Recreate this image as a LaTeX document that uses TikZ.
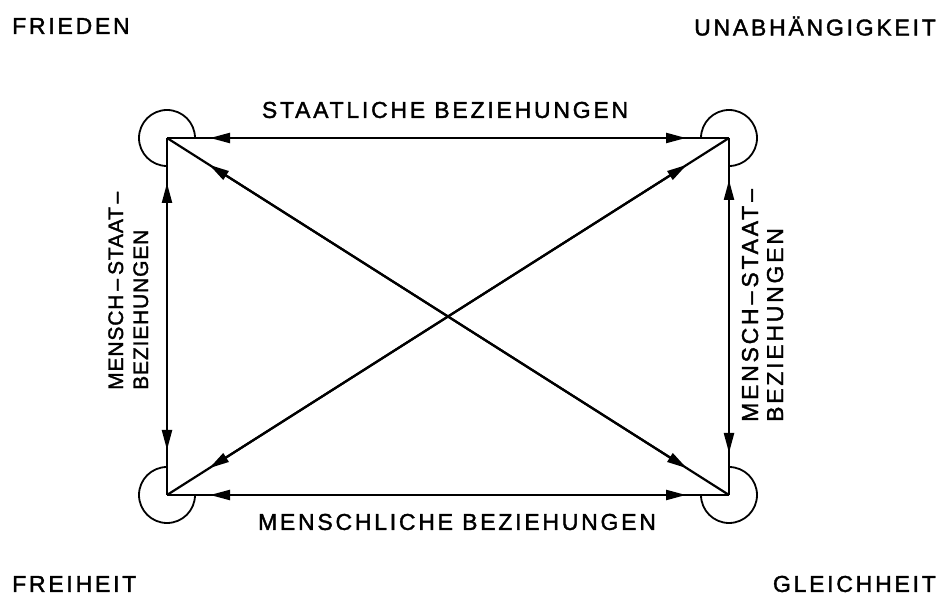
\documentclass[tikz,border=0pt]{standalone}
\usepackage{fontspec}
\usetikzlibrary{arrows.meta}
\newfontfamily\lettering[LetterSpace=12,FakeBold=1.6]{Liberation Sans}
\newfontfamily\letteringtight[LetterSpace=4,FakeBold=1.6]{Liberation Sans}
\tikzset{
  edge/.style={line width=2.2pt},
  tips/.style={{Triangle[length=20pt,width=10pt]}-{Triangle[length=20pt,width=10pt]},
    shorten <=#1, shorten >=#1},
  loop/.style={line width=1.8pt},
  word/.style={inner sep=0pt, font=\lettering\fontsize{23}{28}\selectfont},
}
\begin{document}
\begin{tikzpicture}[x=1pt,y=1pt]
  \useasboundingbox (0,0) rectangle (944,597);
  % corners
  \coordinate (fried) at (167,459);
  \coordinate (unab) at (729,459);
  \coordinate (frei) at (167,102);
  \coordinate (gleich) at (729,102);
  % corner words
  \node[word, anchor=west] (lfried) at (12,571) {FRIEDEN};
  \node[word, anchor=east] (lunab) at (936,571) {UNABHÄNGIGKEIT};
  \node[word, anchor=west] (lfrei) at (12,13) {FREIHEIT};
  \node[word, anchor=east] (lgleich) at (936,13) {GLEICHHEIT};
  % relations
  \node[word] (staat) at (445,487) {STAATLICHE BEZIEHUNGEN};
  \node[word] (mensch) at (457,75) {MENSCHLICHE BEZIEHUNGEN};
  \node[word, rotate=90, anchor=base west, font=\letteringtight\fontsize{21}{26}\selectfont] (ms1) at (123,207) {MENSCH\hspace{4pt}–\hspace{4pt}STAAT\,–};
  \node[word, rotate=90, anchor=base west, font=\letteringtight\fontsize{21}{26}\selectfont] (ms2) at (148,207) {BEZIEHUNGEN};
  \node[word, rotate=90, anchor=base west] (ms3) at (758,175) {MENSCH\hspace{4pt}–\hspace{4pt}STAAT\hspace{4pt}–};
  \node[word, rotate=90, anchor=base west] (ms4) at (783,175) {BEZIEHUNGEN};
  % loops
  \draw[loop] (fried) ++(0:28) arc[start angle=0, end angle=270, radius=28];
  \draw[loop] (unab) ++(-90:28) arc[start angle=-90, end angle=180, radius=28];
  \draw[loop] (frei) ++(90:28) arc[start angle=90, end angle=360, radius=28];
  \draw[loop] (gleich) ++(180:28) arc[start angle=180, end angle=450, radius=28];
  % connectors
  \foreach \a/\b/\s in {fried/unab/43pt, frei/gleich/43pt, fried/frei/45pt,
      unab/gleich/42pt, fried/gleich/50pt, frei/unab/50pt} {
    \draw[edge] (\a) -- (\b);
    \draw[edge, tips=\s] (\a) -- (\b);
  }
\end{tikzpicture}
\end{document}
